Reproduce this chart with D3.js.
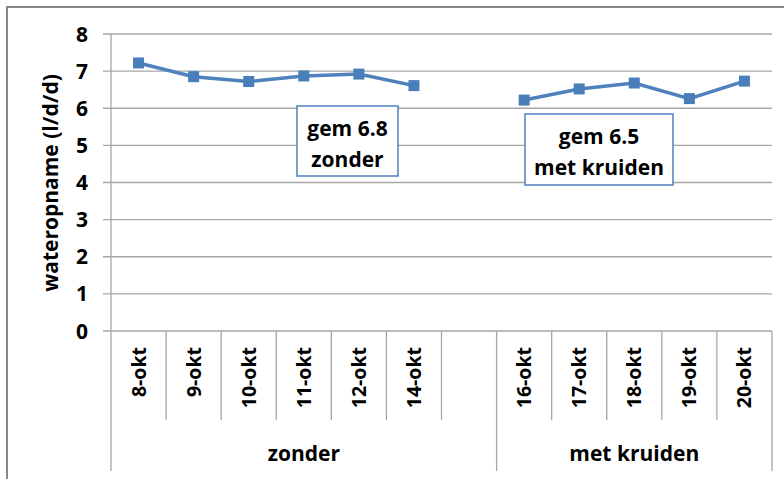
<!DOCTYPE html>
<html>
<head>
<meta charset="utf-8">
<script src="https://cdn.jsdelivr.net/npm/d3@7"></script>
<style>
  body { margin: 0; background: #fff; }
  text { font-family: "Open Sans", sans-serif; font-weight: bold; fill: #000; }
</style>
</head>
<body>
<script>
// data
var groups = ['zonder', 'met kruiden'];
var zonderDays = ['8-okt', '9-okt', '10-okt', '11-okt', '12-okt', '14-okt', ''];
var kruidenDays = ['16-okt', '17-okt', '18-okt', '19-okt', '20-okt'];
var zonderValues = [7.22, 6.85, 6.72, 6.87, 6.92, 6.61, null];
var kruidenValues = [6.22, 6.52, 6.68, 6.26, 6.73];
var yTicks = [0, 1, 2, 3, 4, 5, 6, 7, 8];
var notes = [
  { lines: ['gem 6.8', 'zonder'], x: 297, y: 106, w: 101, h: 70 },
  { lines: ['gem 6.5', 'met kruiden'], x: 525, y: 114, w: 148, h: 71 }
];

var W = 784, H = 479;
var plotL = 111, plotR = 772, plotT = 34, plotB = 331;
var blue = '#4f81bd';

var svg = d3.select('body').append('svg')
  .attr('width', W).attr('height', H);

// outer frame
svg.append('rect')
  .attr('x', 7).attr('y', 7)
  .attr('width', W).attr('height', H)
  .attr('fill', 'white')
  .attr('stroke', '#878787').attr('stroke-width', 2);

var slots = zonderDays.map(function(d, i) { return 'z' + i; })
  .concat(kruidenDays.map(function(d, i) { return 'k' + i; }));
var labels = zonderDays.concat(kruidenDays);
var points = zonderValues.concat(kruidenValues);

var x = d3.scaleBand().domain(slots).range([plotL, plotR]).padding(0);
var y = d3.scaleLinear().domain([0, 8]).range([plotB, plotT]);

// gridlines + y ticks
svg.append('g').selectAll('line.grid')
  .data(yTicks).enter().append('line')
  .attr('class', 'grid')
  .attr('x1', plotL - 8).attr('x2', plotR)
  .attr('y1', function(d) { return y(d); })
  .attr('y2', function(d) { return y(d); })
  .attr('stroke', '#a6a6a6').attr('stroke-width', 1.3);

svg.append('g').selectAll('text.ytick')
  .data(yTicks).enter().append('text')
  .attr('class', 'ytick')
  .attr('x', 88).attr('y', function(d) { return y(d) + 7.5; })
  .attr('text-anchor', 'end')
  .style('font-size', '21px')
  .text(function(d) { return d; });

// y axis line
svg.append('line')
  .attr('x1', plotL).attr('x2', plotL)
  .attr('y1', plotT).attr('y2', 471)
  .attr('stroke', '#a6a6a6').attr('stroke-width', 1.3);

svg.append('text')
  .attr('transform', 'translate(58,' + 183 + ') rotate(-90)')
  .attr('text-anchor', 'middle')
  .style('font-size', '21px')
  .text('wateropname (l/d/d)');

// category separators
var catEdges = slots.map(function(s) { return x(s) + x.bandwidth(); });
svg.append('g').selectAll('line.cat')
  .data(catEdges).enter().append('line')
  .attr('x1', function(d) { return d; }).attr('x2', function(d) { return d; })
  .attr('y1', plotB)
  .attr('y2', function(d, i) { return (i === zonderDays.length - 1 || i === slots.length - 1) ? 471 : 420; })
  .attr('stroke', '#a6a6a6').attr('stroke-width', 1.3);

// x labels
svg.append('g').selectAll('text.xlab')
  .data(slots).enter().append('text')
  .attr('transform', function(d) { return 'translate(' + (x(d) + x.bandwidth() / 2 + 7) + ',347) rotate(-90)'; })
  .attr('text-anchor', 'end')
  .style('font-size', '19.5px')
  .text(function(d, i) { return labels[i]; });

// group labels
var groupSpans = [
  [x(slots[0]), x(slots[zonderDays.length - 1]) + x.bandwidth()],
  [x(slots[zonderDays.length]), x(slots[slots.length - 1]) + x.bandwidth()]
];
svg.append('g').selectAll('text.grp')
  .data(groups).enter().append('text')
  .attr('x', function(d, i) { return (groupSpans[i][0] + groupSpans[i][1]) / 2; })
  .attr('y', 461)
  .attr('text-anchor', 'middle')
  .style('font-size', '21px')
  .text(function(d) { return d; });

// line series
var pts = slots.map(function(s, i) { return { s: s, v: points[i] }; });
var line = d3.line()
  .defined(function(d) { return d.v != null; })
  .x(function(d) { return x(d.s) + x.bandwidth() / 2; })
  .y(function(d) { return y(d.v); });

svg.append('path')
  .datum(pts)
  .attr('d', line)
  .attr('fill', 'none')
  .attr('stroke', blue).attr('stroke-width', 3.5);

svg.append('g').selectAll('rect.mk')
  .data(pts.filter(function(d) { return d.v != null; }))
  .enter().append('rect')
  .attr('x', function(d) { return x(d.s) + x.bandwidth() / 2 - 5.5; })
  .attr('y', function(d) { return y(d.v) - 5.5; })
  .attr('width', 11).attr('height', 11)
  .attr('fill', '#4a7ebb');

// annotation boxes
var note = svg.append('g').selectAll('g.note')
  .data(notes).enter().append('g');
note.append('rect')
  .attr('x', function(d) { return d.x; }).attr('y', function(d) { return d.y; })
  .attr('width', function(d) { return d.w; }).attr('height', function(d) { return d.h; })
  .attr('fill', 'white')
  .attr('stroke', blue).attr('stroke-width', 1.5);
note.each(function(d) {
  d3.select(this).selectAll('text')
    .data(d.lines).enter().append('text')
    .attr('x', d.x + d.w / 2)
    .attr('y', function(t, i) { return d.y + 30 + i * 31; })
    .attr('text-anchor', 'middle')
    .style('font-size', '21px')
    .text(function(t) { return t; });
});
</script>
</body>
</html>
